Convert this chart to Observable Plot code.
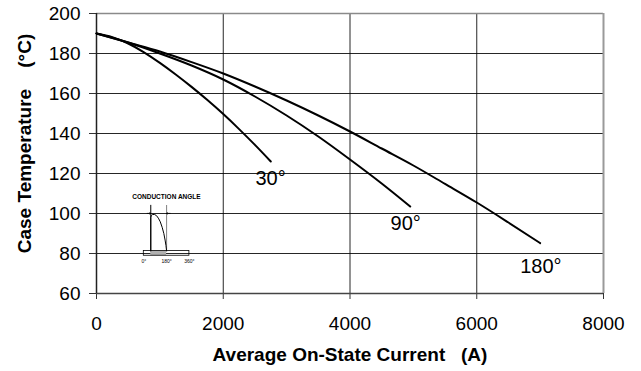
<!DOCTYPE html>
<html><head><meta charset="utf-8">
<script src="https://cdn.jsdelivr.net/npm/d3@7"></script>
<script src="https://cdn.jsdelivr.net/npm/@observablehq/plot@0.6"></script>
<style>
body{margin:0;background:#fff;}
#wrap{position:relative;width:641px;height:371px;overflow:hidden;}
#wrap svg{position:absolute;}
</style></head><body><div id="wrap"></div>
<script>
// ---- data ----
const current30 = [0, 250, 500, 750, 1000, 1250, 1500, 1750, 2000, 2250, 2500, 2750];
const temp30    = [190, 188.2, 185, 180.6, 175.3, 169.5, 163.3, 156.7, 149.7, 142.2, 134.3, 126];
const current90 = [0, 500, 1000, 1500, 2000, 2500, 3000, 3500, 4000, 4500, 4950];
const temp90    = [190, 185.5, 180, 174, 167, 158.5, 149, 138.5, 127, 115, 103.5];
const current180 = [0, 500, 1000, 1500, 2000, 2500, 3000, 3500, 4000, 4500, 5000, 5500, 6000, 6500, 7000];
const temp180    = [190, 185.5, 181, 175.7, 170, 163.5, 156.5, 149, 141, 132.5, 124, 114.8, 105.5, 95.5, 85.2];
const curveNames   = ["30°", "90°", "180°"];
const labelCurrent = [2747, 4879, 7011];
const labelTemp    = [117.6, 95, 73.6];
const xTicks = [0, 2000, 4000, 6000, 8000];
const yTicks = [60, 80, 100, 120, 140, 160, 180, 200];
const xTitle = "Average On-State Current \u00a0\u00a0(A)";
const yTitle = "Case Temperature \u00a0\u00a0\u00a0(°C)";

// inset (conduction angle schematic), degrees vs relative amplitude
const waveDeg = [55, 55, 60, 70, 85, 100, 115, 130, 145, 158, 168, 175, 180];
const waveAmp = [0, 0.92, 0.98, 1.0, 1.0, 0.97, 0.9, 0.8, 0.65, 0.48, 0.3, 0.15, 0];
const insetTicks = [0, 180, 360];
const insetTickLabels = ["0°", "180°", "360°"];
const insetTitle = "CONDUCTION ANGLE";
const conductionStart = 55, conductionEnd = 180;

const series = [
  ...current30.map((c, i) => ({c, t: temp30[i], s: "30"})),
  ...current90.map((c, i) => ({c, t: temp90[i], s: "90"})),
  ...current180.map((c, i) => ({c, t: temp180[i], s: "180"}))
];
const labels = curveNames.map((n, i) => ({n, c: labelCurrent[i], t: labelTemp[i]}));

const font = "Arial, 'Liberation Sans', Helvetica, sans-serif";

const main = Plot.plot({
  width: 641, height: 371,
  marginLeft: 96, marginRight: 38, marginTop: 13, marginBottom: 78,
  style: {fontFamily: font, fontSize: "19px", color: "#000", background: "transparent", overflow: "visible"},
  x: {domain: [0, 8000], ticks: xTicks, tickFormat: d3.format("d")},
  y: {domain: [60, 200], ticks: yTicks},
  marks: [
    Plot.gridX(xTicks.slice(1, -1), {stroke: "#000", strokeOpacity: 0.85, strokeWidth: 1}),
    Plot.gridY(yTicks.slice(1, -1), {stroke: "#000", strokeOpacity: 0.85, strokeWidth: 1}),
    Plot.ruleY([200], {stroke: "#8a8a8a", strokeWidth: 1.5}),
    Plot.ruleX([8000], {stroke: "#9a9a9a", strokeWidth: 2}),
    Plot.axisX({ticks: xTicks, tickSize: 6, tickPadding: 17, label: null, tickFormat: d3.format("d"), stroke: "#333", fontSize: 19}),
    Plot.axisY({ticks: yTicks, tickSize: 7, tickPadding: 9, label: null, stroke: "#333", fontSize: 19}),
    Plot.ruleY([60], {stroke: "#444", strokeWidth: 1.5}),
    Plot.ruleX([0], {stroke: "#222", strokeWidth: 1.5}),
    Plot.line(series, {x: "c", y: "t", z: "s", curve: "monotone-x", stroke: "#000", strokeWidth: 2}),
    Plot.text(labels, {x: "c", y: "t", text: "n", fontSize: 20, fill: "#000"}),
    Plot.text([xTitle], {frameAnchor: "bottom", dy: 67, fontWeight: "bold", fontSize: 19, fill: "#000"}),
    Plot.text([yTitle], {frameAnchor: "left", textAnchor: "middle", dx: -72, dy: -10, rotate: -90, fontWeight: "bold", fontSize: 19, fill: "#000"})
  ]
});
main.style.left = "0px"; main.style.top = "0px";
document.getElementById("wrap").appendChild(main);

const wave = waveDeg.map((d, i) => ({d, a: waveAmp[i]}));
const inset = Plot.plot({
  width: 80, height: 80, margin: 0,
  style: {fontFamily: font, background: "transparent", overflow: "visible", color: "#000"},
  x: {domain: [0, 360], range: [23.3, 68.9], axis: null},
  y: {domain: [0, 1], range: [65.5, 29], axis: null},
  marks: [
    Plot.rectY([0], {x1: conductionStart, x2: conductionEnd, y1: -0.13, y2: 0, fill: "#b0b0b0"}),
    Plot.rectY([0], {x1: insetTicks[0], x2: insetTicks[2], y1: -0.13, y2: 0, fill: "none", stroke: "#000", strokeWidth: 0.8}),
    Plot.line(wave, {x: "d", y: "a", curve: "linear", stroke: "#000", strokeWidth: 1}),
    Plot.ruleX([conductionStart], {y1: 0, y2: 1.25, stroke: "#000", strokeWidth: 1}),
    Plot.ruleX([conductionEnd], {y1: 0, y2: 1.25, stroke: "#000", strokeWidth: 1, strokeDasharray: "1,1"}),
    Plot.arrow([0], {x1: conductionStart - 28, x2: conductionStart, y1: 1.03, y2: 1.03, stroke: "#000", strokeWidth: 0.8, headLength: 3}),
    Plot.arrow([0], {x1: conductionEnd + 28, x2: conductionEnd, y1: 1.03, y2: 1.03, stroke: "#000", strokeWidth: 0.8, headLength: 3}),
    Plot.text(insetTickLabels, {x: (d, i) => insetTicks[i], y: -0.28, text: d => d, fontSize: 5, fill: "#000"}),
    Plot.text([insetTitle], {x: 179, y: 1.47, fontSize: 6.5, fontWeight: "bold", fill: "#000", fontStretch: "condensed"})
  ]
});
inset.style.left = "120px"; inset.style.top = "185px";
document.getElementById("wrap").appendChild(inset);
</script></body></html>
